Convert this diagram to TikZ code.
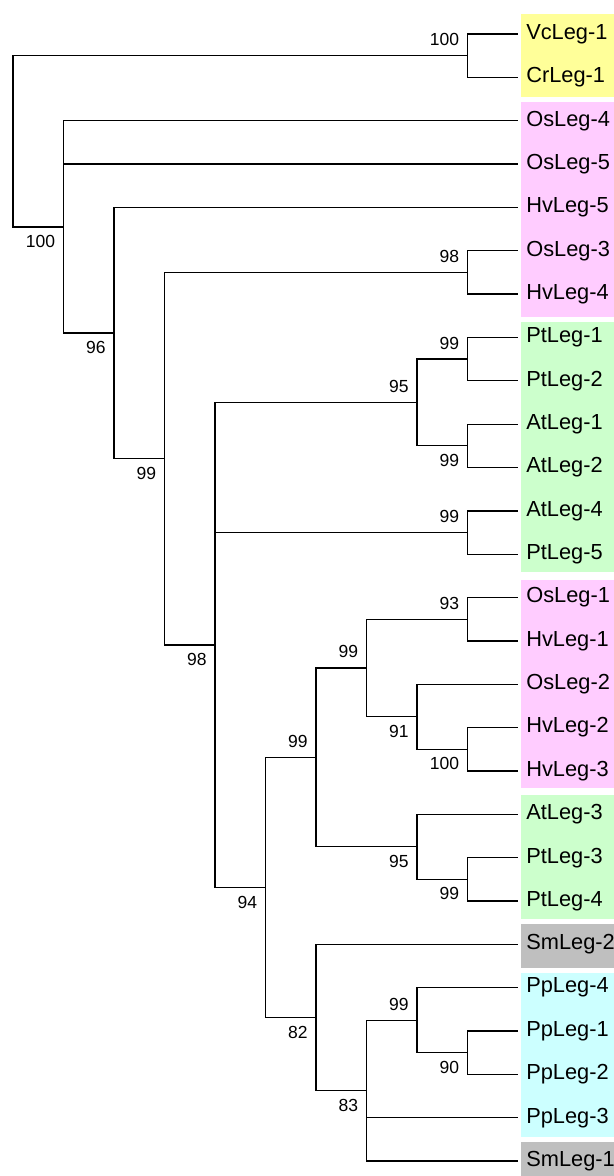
\documentclass[tikz,border=0pt]{standalone}
\usepackage{fontspec}
\setmainfont{Liberation Sans}

\newlength{\du}
\setlength{\du}{0.5pt}

\tikzset{
  branch/.style={line width=0.65pt, line join=miter},
  leaf/.style={anchor=west, inner xsep=8\du, inner ysep=0pt, font=\fontsize{10.9}{12}\selectfont},
  boot/.style={inner sep=0pt, font=\fontsize{8.75}{10}\selectfont},
  bootup/.style={boot, anchor=south east},
  bootdown/.style={boot, anchor=north east}
}

\begin{document}
\begin{tikzpicture}
\pgftransformxscale{1.000000}
\pgftransformyscale{-1.000000}
\useasboundingbox (0\du,0\du) rectangle (614\du,1176\du);
\definecolor{grpyellow}{rgb}{1.000000, 1.000000, 0.600000}
\definecolor{grppink}{rgb}{1.000000, 0.800000, 1.000000}
\definecolor{grpgreen}{rgb}{0.800000, 1.000000, 0.800000}
\definecolor{grpgray}{rgb}{0.750000, 0.750000, 0.750000}
\definecolor{grpcyan}{rgb}{0.800000, 1.000000, 1.000000}
% group boxes
\fill[grpyellow] (521.3\du,14\du) rectangle (614\du,97\du);
\fill[grppink] (521.3\du,102\du) rectangle (614\du,317\du);
\fill[grpgreen] (521.3\du,322\du) rectangle (614\du,572\du);
\fill[grppink] (521.3\du,580\du) rectangle (614\du,788\du);
\fill[grpgreen] (521.3\du,795\du) rectangle (614\du,919\du);
\fill[grpgray] (521.3\du,924\du) rectangle (614\du,968\du);
\fill[grpcyan] (521.3\du,973\du) rectangle (614\du,1137\du);
\fill[grpgray] (521.3\du,1142\du) rectangle (614\du,1176\du);
% leaves
\node[leaf] (vc1) at (517.9\du,34.00\du){VcLeg-1};
\node[leaf] (cr1) at (517.9\du,77.35\du){CrLeg-1};
\node[leaf] (os4) at (517.9\du,120.70\du){OsLeg-4};
\node[leaf] (os5) at (517.9\du,164.05\du){OsLeg-5};
\node[leaf] (hv5) at (517.9\du,207.40\du){HvLeg-5};
\node[leaf] (os3) at (517.9\du,250.75\du){OsLeg-3};
\node[leaf] (hv4) at (517.9\du,294.10\du){HvLeg-4};
\node[leaf] (pt1) at (517.9\du,337.45\du){PtLeg-1};
\node[leaf] (pt2) at (517.9\du,380.80\du){PtLeg-2};
\node[leaf] (at1) at (517.9\du,424.15\du){AtLeg-1};
\node[leaf] (at2) at (517.9\du,467.50\du){AtLeg-2};
\node[leaf] (at4) at (517.9\du,510.85\du){AtLeg-4};
\node[leaf] (pt5) at (517.9\du,554.20\du){PtLeg-5};
\node[leaf] (os1) at (517.9\du,597.55\du){OsLeg-1};
\node[leaf] (hv1) at (517.9\du,640.90\du){HvLeg-1};
\node[leaf] (os2) at (517.9\du,684.25\du){OsLeg-2};
\node[leaf] (hv2) at (517.9\du,727.60\du){HvLeg-2};
\node[leaf] (hv3) at (517.9\du,770.95\du){HvLeg-3};
\node[leaf] (at3) at (517.9\du,814.30\du){AtLeg-3};
\node[leaf] (pt3) at (517.9\du,857.65\du){PtLeg-3};
\node[leaf] (pt4) at (517.9\du,901.00\du){PtLeg-4};
\node[leaf] (sm2) at (517.9\du,944.35\du){SmLeg-2};
\node[leaf] (pp4) at (517.9\du,987.70\du){PpLeg-4};
\node[leaf] (pp1) at (517.9\du,1031.05\du){PpLeg-1};
\node[leaf] (pp2) at (517.9\du,1074.40\du){PpLeg-2};
\node[leaf] (pp3) at (517.9\du,1117.75\du){PpLeg-3};
\node[leaf] (sm1) at (517.9\du,1161.10\du){SmLeg-1};
% inner nodes
\coordinate (root) at (12.9\du,141.3\du);
\coordinate (nVC) at (467.4\du,55.7\du);
\coordinate (nL1) at (63.4\du,226.9\du);
\coordinate (nL2) at (113.9\du,333.1\du);
\coordinate (nL3) at (164.4\du,458.7\du);
\coordinate (nOsHv3) at (467.4\du,272.4\du);
\coordinate (nLand) at (214.9\du,645.0\du);
\coordinate (nPtAt) at (416.9\du,402.5\du);
\coordinate (nPt12) at (467.4\du,359.1\du);
\coordinate (nAt12) at (467.4\du,445.8\du);
\coordinate (nAtPt45) at (467.4\du,532.5\du);
\coordinate (nSeed) at (265.4\du,887.5\du);
\coordinate (nMono) at (315.9\du,757.4\du);
\coordinate (nOsHvA) at (366.4\du,668.0\du);
\coordinate (nOsHv1) at (467.4\du,619.2\du);
\coordinate (nOs2) at (416.9\du,716.8\du);
\coordinate (nHv23) at (467.4\du,749.3\du);
\coordinate (nAtPt3) at (416.9\du,846.8\du);
\coordinate (nPt34) at (467.4\du,879.3\du);
\coordinate (nSm) at (315.9\du,1017.5\du);
\coordinate (nPp) at (366.4\du,1090.7\du);
\coordinate (nPp4) at (416.9\du,1020.2\du);
\coordinate (nPp12) at (467.4\du,1052.7\du);
% branches
\draw[branch] (root) |- (nVC) (root) |- (nL1);
\draw[branch] (nVC) |- (vc1.west) (nVC) |- (cr1.west);
\draw[branch] (nL1) |- (os4.west) (nL1) |- (os5.west) (nL1) |- (nL2);
\draw[branch] (nL2) |- (hv5.west) (nL2) |- (nL3);
\draw[branch] (nL3) |- (nOsHv3) (nL3) |- (nLand);
\draw[branch] (nOsHv3) |- (os3.west) (nOsHv3) |- (hv4.west);
\draw[branch] (nLand) |- (nPtAt) (nLand) |- (nAtPt45) (nLand) |- (nSeed);
\draw[branch] (nPtAt) |- (nPt12) (nPtAt) |- (nAt12);
\draw[branch] (nPt12) |- (pt1.west) (nPt12) |- (pt2.west);
\draw[branch] (nAt12) |- (at1.west) (nAt12) |- (at2.west);
\draw[branch] (nAtPt45) |- (at4.west) (nAtPt45) |- (pt5.west);
\draw[branch] (nSeed) |- (nMono) (nSeed) |- (nSm);
\draw[branch] (nMono) |- (nOsHvA) (nMono) |- (nAtPt3);
\draw[branch] (nOsHvA) |- (nOsHv1) (nOsHvA) |- (nOs2);
\draw[branch] (nOsHv1) |- (os1.west) (nOsHv1) |- (hv1.west);
\draw[branch] (nOs2) |- (os2.west) (nOs2) |- (nHv23);
\draw[branch] (nHv23) |- (hv2.west) (nHv23) |- (hv3.west);
\draw[branch] (nAtPt3) |- (at3.west) (nAtPt3) |- (nPt34);
\draw[branch] (nPt34) |- (pt3.west) (nPt34) |- (pt4.west);
\draw[branch] (nSm) |- (sm2.west) (nSm) |- (nPp);
\draw[branch] (nPp) |- (nPp4) (nPp) |- (pp3.west) (nPp) |- (sm1.west);
\draw[branch] (nPp4) |- (pp4.west) (nPp4) |- (nPp12);
\draw[branch] (nPp12) |- (pp1.west) (nPp12) |- (pp2.west);
% bootstrap values
\node[bootup] (bVC) at (459.4\du,46.2\du){100};
\node[bootup] (bOsHv3) at (459.4\du,262.9\du){98};
\node[bootup] (bPt12) at (459.4\du,349.6\du){99};
\node[bootup] (bPtAt) at (408.9\du,393.0\du){95};
\node[bootup] (bAtPt45) at (459.4\du,523.0\du){99};
\node[bootup] (bOsHv1) at (459.4\du,609.7\du){93};
\node[bootup] (bOsHvA) at (358.4\du,658.5\du){99};
\node[bootup] (bMono) at (307.9\du,747.9\du){99};
\node[bootup] (bPp4) at (408.9\du,1010.7\du){99};
\node[bootdown] (bAt12) at (459.4\du,453.8\du){99};
\node[bootdown] (bHv23) at (459.4\du,757.3\du){100};
\node[bootdown] (bOs2) at (408.9\du,724.8\du){91};
\node[bootdown] (bPt34) at (459.4\du,887.3\du){99};
\node[bootdown] (bAtPt3) at (408.9\du,854.8\du){95};
\node[bootdown] (bPp12) at (459.4\du,1060.7\du){90};
\node[bootdown] (bPp) at (358.4\du,1098.7\du){83};
\node[bootdown] (bSm) at (307.9\du,1025.5\du){82};
\node[bootdown] (bSeed) at (257.4\du,895.5\du){94};
\node[bootdown] (bLand) at (206.9\du,653.0\du){98};
\node[bootdown] (bL3) at (156.4\du,466.7\du){99};
\node[bootdown] (bL2) at (105.9\du,341.1\du){96};
\node[bootdown] (bL1) at (55.4\du,234.9\du){100};
\end{tikzpicture}
\end{document}
